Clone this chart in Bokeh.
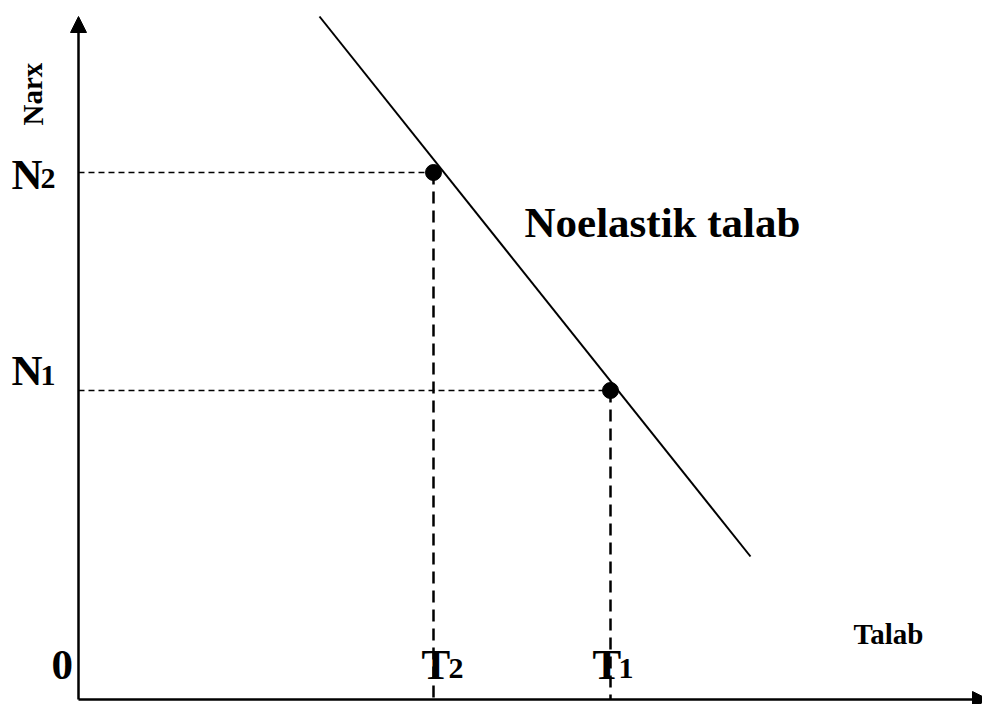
from bokeh.plotting import figure
from bokeh.models import Range1d, Arrow, NormalHead, Label
from bokeh.embed import file_html
from bokeh.resources import INLINE

# --- data (schematic units) ---
demand_q = [2.41, 6.72]          # demand line quantity endpoints
demand_p = [6.83, 1.43]          # demand line price endpoints
point_q = [3.55, 5.32]           # T2, T1
point_p = [5.27, 3.09]           # N2, N1
price_labels = ["N", "N"]
price_subs = ["2", "1"]
qty_labels = ["T", "T"]
qty_subs = ["2", "1"]
axis_q_max = 9.10
axis_p_max = 6.83
curve_label = "Noelastik talab"
x_title = "Talab"
y_title = "Narx"
origin_label = "0"

FONT = "Liberation Serif"

p = figure(width=982, height=704, output_backend="svg", toolbar_location=None,
           x_range=Range1d(-0.78, 9.04), y_range=Range1d(-0.05, 6.99),
           x_axis_type=None, y_axis_type=None, min_border=0)
p.grid.visible = False
p.outline_line_color = None
p.background_fill_color = "white"
p.border_fill_color = "white"

# axes with arrow heads
p.add_layout(Arrow(x_start=0, y_start=0, x_end=0, y_end=axis_p_max, line_width=2.5,
                   line_color="black",
                   end=NormalHead(size=16, fill_color="black", line_color="black", line_width=1)))
p.add_layout(Arrow(x_start=0, y_start=0, x_end=axis_q_max, y_end=0, line_width=2.5,
                   line_color="black",
                   end=NormalHead(size=16, fill_color="black", line_color="black", line_width=1)))

# dashed guides
zeros = [0 for _ in point_q]
p.segment(x0=zeros, y0=point_p, x1=point_q, y1=point_p, line_color="black",
          line_width=1.3, line_dash="6 4")
p.segment(x0=point_q, y0=point_p, x1=point_q, y1=zeros, line_color="black",
          line_width=2.5, line_dash="12 7")

# demand line
p.line(demand_q, demand_p, line_color="black", line_width=2)

# points
p.scatter(point_q, point_p, size=16, fill_color="black", line_color="black")

def lab(text, x, y, xo, yo, size, units="data", angle=0):
    p.add_layout(Label(x=x, y=y, x_offset=xo, y_offset=yo, text=text,
                       x_units=units, y_units=units, angle=angle,
                       text_font=FONT, text_font_style="bold",
                       text_font_size=size, text_color="black",
                       text_align="left", text_baseline="alphabetic"))

# price labels (main letter, subscript)
price_offsets = [(-1.5, -5.8), (20.5, 15.5)]
for pv, t, s, (yo_main, yo_sub) in zip(point_p, price_labels, price_subs, price_offsets):
    lab(t, 0, pv, -67, yo_main, "43px")
    lab(s, 0, pv, -38, yo_sub, "30px")

# quantity labels
qty_offsets = [(-12, 15), (-18, 8)]
for qv, t, s, (xo_main, xo_sub) in zip(point_q, qty_labels, qty_subs, qty_offsets):
    lab(t, qv, 0, xo_main, 35.5, "43px")
    lab(s, qv, 0, xo_sub, 31.5, "30px")

lab(origin_label, 0, 0, -27, 34.5, "43px")
lab(curve_label, 524, 482.5, 0, 0, "43px", units="screen")
lab(x_title, 853, 70.5, 0, 0, "29px", units="screen")
lab(y_title, 32, 579, 0, 0, "29px", units="screen", angle=1.5708)

open("out.html", "w").write(file_html(p, INLINE))
